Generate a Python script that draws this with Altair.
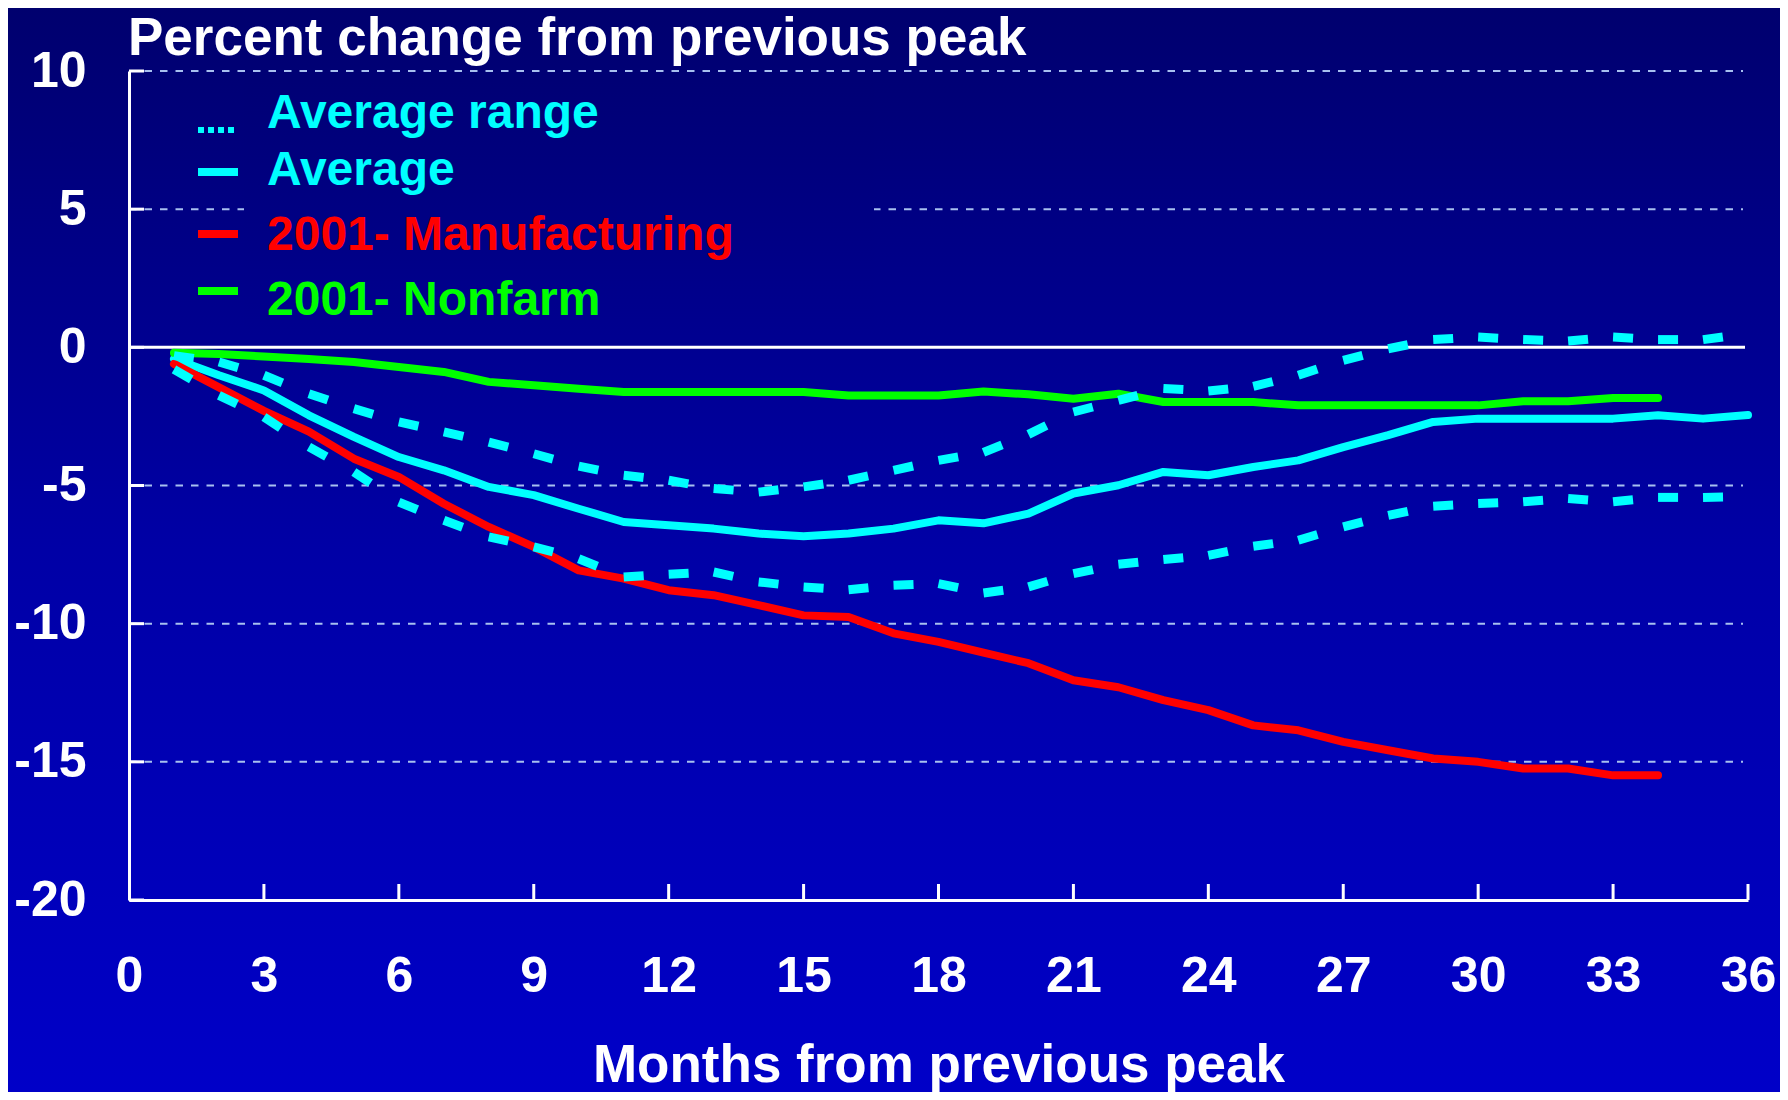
import altair as alt
import pandas as pd

# ---------------- data ----------------
months_avg = list(range(1, 37))
average = [-0.41, -1.01, -1.56, -2.46, -3.24, -3.97, -4.45, -5.05, -5.35, -5.84,
           -6.32, -6.44, -6.56, -6.74, -6.84, -6.74, -6.56, -6.26, -6.37, -6.02,
           -5.29, -4.99, -4.51, -4.63, -4.33, -4.09, -3.61, -3.18, -2.70, -2.58,
           -2.58, -2.58, -2.58, -2.46, -2.58, -2.45]
range_upper = [-0.30, -0.53, -1.01, -1.68, -2.22, -2.70, -3.06, -3.43, -3.85, -4.30,
               -4.63, -4.81, -5.11, -5.24, -5.05, -4.81, -4.45, -4.09, -3.80, -3.15,
               -2.34, -1.92, -1.49, -1.58, -1.41, -1.01, -0.47, -0.05, 0.28, 0.37,
               0.28, 0.23, 0.37, 0.28, 0.28, 0.50]
range_lower = [-0.80, -1.74, -2.52, -3.60, -4.51, -5.60, -6.26, -6.86, -7.22, -7.65,
               -8.31, -8.21, -8.13, -8.49, -8.67, -8.77, -8.61, -8.55, -8.89, -8.67,
               -8.19, -7.85, -7.68, -7.53, -7.20, -6.98, -6.50, -6.08, -5.75, -5.65,
               -5.59, -5.47, -5.59, -5.43, -5.43, -5.40]
months_2001 = list(range(1, 35))
manufacturing = [-0.60, -1.45, -2.30, -3.05, -4.03, -4.69, -5.66, -6.50, -7.22, -8.07,
                 -8.37, -8.79, -8.97, -9.33, -9.70, -9.76, -10.35, -10.66, -11.05, -11.43,
                 -12.05, -12.30, -12.77, -13.13, -13.68, -13.86, -14.28, -14.58, -14.88, -15.00,
                 -15.24, -15.24, -15.49, -15.49]
nonfarm = [-0.20, -0.24, -0.33, -0.42, -0.53, -0.71, -0.89, -1.25, -1.37, -1.50,
           -1.62, -1.62, -1.62, -1.62, -1.62, -1.74, -1.74, -1.74, -1.60, -1.70,
           -1.86, -1.68, -1.98, -1.98, -1.98, -2.10, -2.10, -2.10, -2.10, -2.10,
           -1.95, -1.95, -1.83, -1.83]
x_ticks = list(range(0, 37, 3))
y_ticks = [10, 5, 0, -5, -10, -15, -20]
grid_values = [10, 5, -5, -10, -15]
legend_labels = ["Average range", "Average", "2001- Manufacturing", "2001- Nonfarm"]

# ---------------- layout / style ----------------
FONT = "Liberation Sans"
CYAN, RED, GREEN = "#00FFFF", "#FF0000", "#00FF00"
GRID = "#A8C0F0"
W, H = 1619, 829
PAD_L, PAD_T, PAD_R, PAD_B = 121, 63, 32, 192
TOTAL_H = H + PAD_T + PAD_B
BG_STOPS = [(0.0, 0x6E), (0.5, 0xA6), (1.0, 0xC8)]


def bg_color(t):
    for (t0, b0), (t1, b1) in zip(BG_STOPS[:-1], BG_STOPS[1:]):
        if t0 <= t <= t1:
            b = b0 + (b1 - b0) * (t - t0) / (t1 - t0)
            return "#0000%02x" % int(round(b))
    return "#0000%02x" % BG_STOPS[-1][1]


x_scale = alt.Scale(domain=[0, 36], nice=False, zero=False)
y_scale = alt.Scale(domain=[-20, 10], nice=False, zero=False)

x_axis = alt.Axis(values=x_ticks, ticks=False, tickSize=0, grid=False,
                  domainColor="white", domainWidth=3,
                  labelColor="white", labelFont=FONT, labelFontSize=50, labelFontWeight="bold",
                  labelPadding=51, labelBaseline="top", labelFlush=False, labelOverlap=False,
                  title="Months from previous peak", titleColor="white", titleFont=FONT,
                  titleFontSize=53, titleFontWeight="bold", titleX=W / 2, titleY=181,
                  titleAlign="center", titleBaseline="alphabetic", zindex=1)
y_axis = alt.Axis(values=y_ticks, ticks=False, tickSize=0, grid=False,
                  domainColor="white", domainWidth=3,
                  labelColor="white", labelFont=FONT, labelFontSize=50, labelFontWeight="bold",
                  labelPadding=43, labelBaseline="middle", labelFlush=False, labelOverlap=False,
                  labelExpr="datum.value < 0 ? '-' + abs(datum.value) : '' + datum.value",
                  title=None, zindex=1)


def X(field):
    return alt.X(field, type="quantitative", scale=x_scale, axis=x_axis)


def Y(field):
    return alt.Y(field, type="quantitative", scale=y_scale, axis=y_axis)


one = pd.DataFrame({"k": [0]})

# background gradient
background = alt.Chart(one).mark_rect(
    color=alt.Gradient(gradient="linear",
                       stops=[alt.GradientStop(color=bg_color(t), offset=t) for t, _ in BG_STOPS],
                       x1=0, x2=0, y1=0, y2=1)
).encode(x=alt.value(-PAD_L), x2=alt.value(W + PAD_R), y=alt.value(-PAD_T), y2=alt.value(H + PAD_B))

# grid lines
grid = alt.Chart(pd.DataFrame({"value": grid_values})).mark_rule(
    color=GRID, strokeWidth=2, strokeDash=[7.5, 8]
).encode(y=Y("value"), x=alt.value(0), x2=alt.value(W - 5))

# legend box (hides grid behind the legend)
box_y0, box_y1 = 9, 259
t0 = (box_y0 + PAD_T) / TOTAL_H
t1 = (box_y1 + PAD_T) / TOTAL_H
legend_box = alt.Chart(one).mark_rect(
    color=alt.Gradient(gradient="linear",
                       stops=[alt.GradientStop(color=bg_color(t0), offset=0),
                              alt.GradientStop(color=bg_color(t1), offset=1)],
                       x1=0, x2=0, y1=0, y2=1)
).encode(x=alt.value(115), x2=alt.value(745), y=alt.value(box_y0), y2=alt.value(box_y1))

# zero line
zero_line = alt.Chart(pd.DataFrame({"value": [0]})).mark_rule(color="white", strokeWidth=3).encode(
    y=Y("value"), x=alt.value(0), x2=alt.value(W - 3))

# inward ticks
x_tick_marks = alt.Chart(pd.DataFrame({"month": x_ticks[1:]})).mark_rule(color="white", strokeWidth=3).encode(
    x=X("month"), y=alt.value(H), y2=alt.value(H - 16))
y_tick_marks = alt.Chart(pd.DataFrame({"value": y_ticks})).mark_rule(color="white", strokeWidth=3).encode(
    y=Y("value"), x=alt.value(0), x2=alt.value(15))


def line(months, values, color):
    df = pd.DataFrame({"month": months, "value": values})
    return alt.Chart(df).mark_line(color=color, strokeWidth=8, strokeCap="round",
                                   strokeJoin="round").encode(x=X("month"), y=Y("value"))


def dotted(months, values):
    df = pd.DataFrame({"month": months, "value": values})
    df["month2"] = df["month"].shift(-1)
    df["value2"] = df["value"].shift(-1)
    df = df.dropna()
    return alt.Chart(df).mark_rule(color=CYAN, strokeWidth=9, strokeDash=[20, 400],
                                   strokeCap="butt").encode(
        x=X("month"), y=Y("value"), x2="month2:Q", y2="value2:Q")


avg_line = line(months_avg, average, CYAN)
man_line = line(months_2001, manufacturing, RED)
nf_line = line(months_2001, nonfarm, GREEN)
up_dots = dotted(months_avg, range_upper)
lo_dots = dotted(months_avg, range_lower)

# title
title = alt.Chart(one).mark_text(
    text="Percent change from previous peak", align="left", baseline="alphabetic",
    font=FONT, fontSize=53, fontWeight="bold", color="white"
).encode(x=alt.value(-1), y=alt.value(-16))

# legend (manual)
legend_colors = [CYAN, CYAN, RED, GREEN]
legend_text_y = [57, 114, 179, 244]
legend_sym_y = [59, 101, 163, 220]
legend_layers = []
for i, (lab, col) in enumerate(zip(legend_labels, legend_colors)):
    legend_layers.append(alt.Chart(one).mark_text(
        text=lab, align="left", baseline="alphabetic", font=FONT, fontSize=48,
        fontWeight="bold", color=col).encode(x=alt.value(138), y=alt.value(legend_text_y[i])))
    if i == 0:
        sym = alt.Chart(one).mark_rule(color=col, strokeWidth=6, strokeDash=[6, 4], strokeCap="butt")
    else:
        sym = alt.Chart(one).mark_rule(color=col, strokeWidth=8, strokeCap="butt")
    legend_layers.append(sym.encode(x=alt.value(69), x2=alt.value(109),
                                    y=alt.value(legend_sym_y[i]), y2=alt.value(legend_sym_y[i])))

chart = alt.layer(
    background, grid, legend_box, zero_line, x_tick_marks, y_tick_marks,
    avg_line, man_line, nf_line, up_dots, lo_dots, title, *legend_layers
).properties(
    width=W, height=H,
    padding={"left": PAD_L, "top": PAD_T, "right": PAD_R, "bottom": PAD_B},
    autosize=alt.AutoSizeParams(type="none"),
    background=bg_color(0.0),
).configure_view(stroke=None).configure(font=FONT)

chart.save("out.html", embed_options={"renderer": "svg", "actions": False})
